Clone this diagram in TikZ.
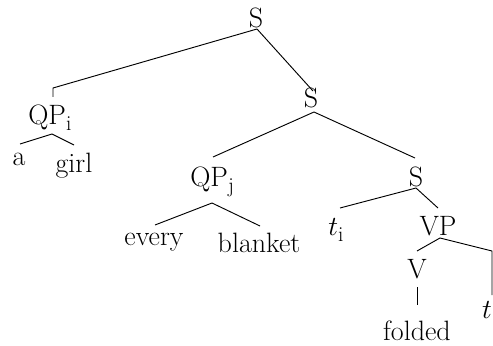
\documentclass[tikz,border=0pt]{standalone}
\newcommand{\lowsub}[1]{\raisebox{-5pt}{\fontsize{16}{18}\selectfont #1}}
\begin{document}
\begin{tikzpicture}[x=0.75pt,y=-0.75pt,
  lbl/.style={font=\fontsize{21}{24}\selectfont, inner sep=0pt, anchor=base},
  edge/.style={line width=0.7pt, black}]
\useasboundingbox (0,0) rectangle (493,346);
% labels
\node[lbl] (S1) at (256,28) {S};
\node[lbl,anchor=base west] (QPi) at (28,124) {QP\lowsub{i}};
\node[lbl] (a) at (19,166) {a};
\node[lbl] (girl) at (74,172) {girl};
\node[lbl] (S2) at (311,108) {S};
\node[lbl,anchor=base west] (QPj) at (190,186) {QP\lowsub{j}};
\node[lbl] (every) at (154,245) {every};
\node[lbl] (blanket) at (259,252) {blanket};
\node[lbl] (S3) at (416,186) {S};
\node[lbl,anchor=base west] (ti) at (328,235) {$t$\lowsub{i}};
\node[lbl] (VP) at (438,235) {VP};
\node[lbl] (V) at (417,278) {V};
\node[lbl] (t) at (487,318) {$t$};
\node[lbl] (folded) at (417,340) {folded};
% joints
\coordinate (S1j) at (257,29);
\coordinate (QPiTop) at (53,97);
\coordinate (QPiEl) at (53,88);
\coordinate (S2Top) at (313,91);
\coordinate (QPij) at (52,134);
\coordinate (aTop) at (20,144);
\coordinate (girlTop) at (74,145);
\coordinate (S2j) at (314,112);
\coordinate (QPjTop) at (213,157);
\coordinate (S3Top) at (415,158);
\coordinate (QPjj) at (212,203);
\coordinate (everyTop) at (155,225);
\coordinate (blanketTop) at (260,226);
\coordinate (S3j) at (416,188);
\coordinate (tiTop) at (340,208);
\coordinate (VPTop) at (438,208);
\coordinate (VPj) at (440,238);
\coordinate (VTop) at (417,251);
\coordinate (tEl) at (492,251);
\coordinate (tTop) at (492,295);
\coordinate (Vj) at (417,287);
\coordinate (foldedTop) at (417,305);
% edges
\draw[edge] (S1j) -- (QPiEl) -- (QPiTop);
\draw[edge] (S1j) -- (S2Top);
\draw[edge] (QPij) -- (aTop);
\draw[edge] (QPij) -- (girlTop);
\draw[edge] (S2j) -- (QPjTop);
\draw[edge] (S2j) -- (S3Top);
\draw[edge] (QPjj) -- (everyTop);
\draw[edge] (QPjj) -- (blanketTop);
\draw[edge] (S3j) -- (tiTop);
\draw[edge] (S3j) -- (VPTop);
\draw[edge] (VPj) -- (VTop);
\draw[edge] (VPj) -- (tEl) -- (tTop);
\draw[edge] (Vj) -- (foldedTop);
\end{tikzpicture}
\end{document}
